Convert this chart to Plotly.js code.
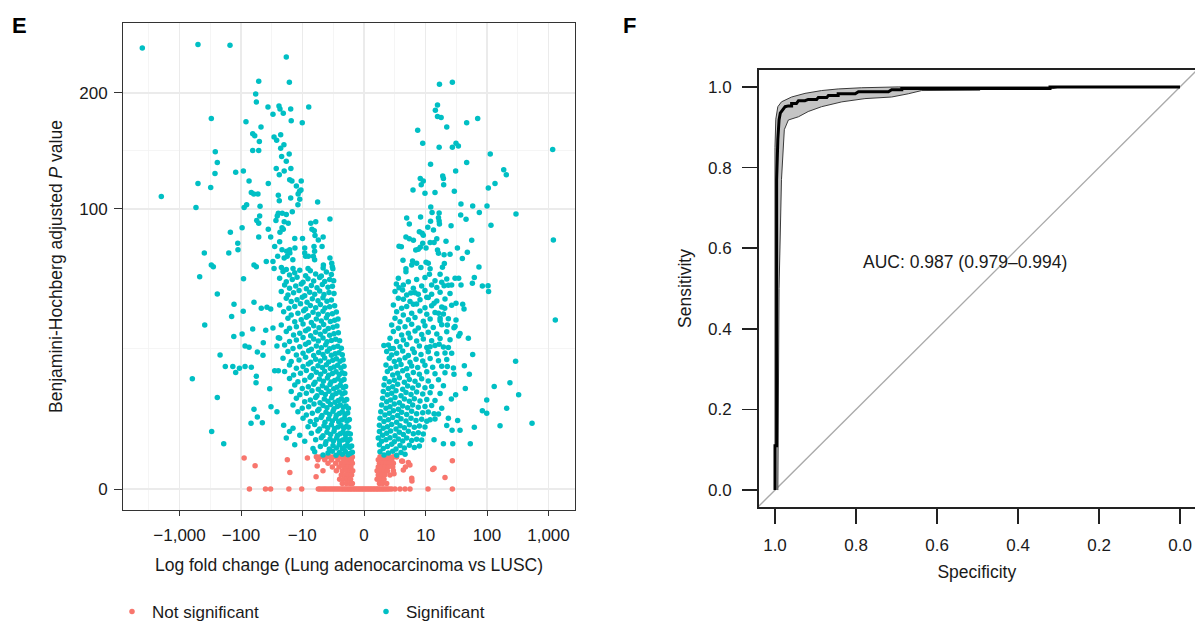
<!DOCTYPE html>
<html>
<head>
<meta charset="utf-8">
<script src="https://cdn.plot.ly/plotly-3.0.1.min.js"></script>
<style>html,body{margin:0;padding:0;background:#fff}#chart{width:1195px;height:625px}</style>
</head>
<body>
<div id="chart"></div>
<script>
// ---------- Panel E : volcano plot (x = fold change, y = BH adjusted P value) ----------
const xTickVals = [-1000, -100, -10, 0, 10, 100, 1000];
const xTickText = ['\u22121,000', '\u2212100', '\u221210', '0', '10', '100', '1,000'];
const yTickVals = [0, 100, 200];

// Significant genes, left side (sparse outer points)
const sigLeftSparse = [
[-4027,248],[-501,252],[-151,251],[-18.3,238],[-51.5,212],[-16.3,211],[-57.7,199],[-56.4,191],[-36.4,186],[-24.1,187],
[-23.2,184],[-15.5,184],[-7.8,186],[-30.2,179],[-20.5,180],[-304,175],[-83,172],[-15.2,173],[-10,171],[-47.3,167],
[-64.5,161],[-59.8,159],[-22.6,160],[-29,158],[-26.3,155],[-50.3,154],[-20,151],[-22.6,148],[-64.5,146],[-51.5,146],
[-262,145],[-16.4,143],[-21.8,141],[-243,136],[-18.3,137],[-26.7,131],[-15.4,131],[-91.6,129],[-122,128],[-19.8,129],
[-23.8,126],[-265,127],[-16.1,122],[-14.8,121],[-10.4,121],[-74,121],[-36,119],[-501,119],[-12.5,117],[-311,116],
[-1977,109],[-68,112],[-62,111],[-53,111],[-24.7,110],[-10.5,114],[-11.1,113],[-11.7,111],[-15.5,108],[-23.8,106],
[-11,107],[-11.8,103],[-5.5,105],[-540,101],[-89,101],[-81,103],[-49,102],[-14.6,98],[-24.7,97],[-21.3,97],
[-18.3,96],[-25.7,95],[-49.7,95],[-55.6,92],[-27,92],[-19.8,91],[-51.5,90],[-17,90],[-3.3,93],[-7.2,90],
[-5.93,91],[-21.5,87],[-20.5,86],[-36,86],[-6.88,86],[-6.28,85],[-23.2,84],[-149,84],[-96,87],[-6.1,82],
[-51.5,81],[-32.9,81],[-4.4,81],[-13.3,80],[-9.9,80],[-23.5,78],[-5.35,79],[-113,77],[-28.3,75],[-4.6,75],
[-112,73],[-9.1,74],[-6.35,75],[-21.5,73],[-18,72],[-16.1,73],[-13.2,74],[-9.1,71],[-6.2,72],[-395,71],
[-158,71],[-25.3,69],[-19.8,68],[-14.3,67],[-7.9,69],[-6.5,69],[-6.2,67],[-4.36,64],[-3.3,68],[-3.05,65],
[-2.97,63],[-304,64],[-282,63],[-61.5,64],[-56.4,63],[-38.8,66],[-30.2,66],[-17.7,69],[-16,71],[-8.8,69],
[-29,62],[-22,62.5],[-18.3,61.5],[-14.2,62],[-8,62],[-4.4,62.3],[-2.9,61.8],
[-470,57.5],[-243,48.5],[-389,34.3],[-619,15.5],[-243,10.7],[-300,4.2],[-191,2.6],[-219,22.9],[-180,19.1],[-136,19.1],
[-122,17.3],[-106,18.6],[-86,19.1],[-68,18.9],[-131,29.7],[-142,37.9],[-130,43.5],[-91,56.4],[-92,40.3],[-96,30.6],
[-86,26.1],[-74,25.6],[-64.5,32.6],[-61.5,44.5],[-54.3,23.9],[-43.9,22.8],[-56.4,16.2],[-57,14.4],[-61.5,8.1],[-54.3,6.6],
[-68.7,5.5],[-45,5.6],[-46.8,41.6],[-37.8,42.1],[-32.9,41.3],[-39.6,32.1],[-43.4,27.3],[-30.2,33.1],[-34.1,12.8],[-32.5,8.6],
[-26,7.6],[-28.3,17.8],[-24.7,17.8],[-26,26.1],[-24.7,29.2]
];

// Significant genes, left side (dense core)
const sigLeftDense = [
[-20.7,60.3],[-16.2,58.4],[-13.3,59.6],[-11.0,61.0],[-8.78,58.0],[-7.33,60.8],[-5.95,59.0],[-4.74,57.8],[-3.85,60.1],[-3.1,58.6],
[-23.5,56.6],[-18.3,54.8],[-14.6,55.9],[-12.2,57.2],[-9.7,54.5],[-8.02,56.3],[-6.43,55.1],[-5.07,57.0],[-4.13,54.9],[-3.34,56.0],[-2.79,55.3],
[-19.5,53.1],[-16.2,51.4],[-12.8,52.5],[-10.4,53.6],[-8.55,51.1],[-7.04,52.8],[-5.64,51.7],[-4.55,53.3],[-3.59,51.9],[-2.96,52.4],
[-22.1,49.7],[-17.2,48.0],[-13.9,49.1],[-11.3,50.3],[-9.1,47.6],[-7.51,49.4],[-6.18,48.4],[-5.07,50.0],[-4.25,48.2],[-3.44,49.2],[-2.75,48.7],
[-18.3,46.4],[-15.2,44.8],[-12.2,45.7],[-10.0,46.9],[-8.33,44.5],[-6.78,46.1],[-5.42,45.2],[-4.43,46.6],[-3.75,44.9],[-3.1,45.5],
[-23.5,43.2],[-16.6,41.6],[-13.3,42.5],[-10.7,43.7],[-8.78,41.3],[-7.33,42.9],[-5.95,41.9],[-4.93,43.4],[-4.08,41.8],[-3.34,42.3],[-2.67,42.8],
[-20.2,40.1],[-15.2,38.6],[-11.8,39.4],[-9.46,40.5],[-7.92,38.3],[-6.6,39.8],[-5.35,38.9],[-4.43,40.3],[-3.64,38.7],[-2.96,39.2],[-2.46,39.9],
[-17.2,37.2],[-13.3,35.7],[-10.4,36.5],[-8.55,37.6],[-7.04,35.4],[-5.79,36.9],[-4.74,36.0],[-3.85,37.4],[-3.24,35.8],[-2.67,36.3],[-2.27,36.8],
[-22.1,34.3],[-16.2,32.9],[-12.5,33.6],[-9.7,34.7],[-7.92,32.6],[-6.43,34.0],[-5.21,33.2],[-4.31,34.5],[-3.54,32.8],[-2.88,33.4],[-2.39,33.9],
[-18.3,31.6],[-13.9,30.2],[-11.0,30.9],[-8.78,31.9],[-7.22,29.9],[-5.95,31.3],[-4.93,30.5],[-4.08,31.7],[-3.34,30.1],[-2.75,30.7],[-2.23,31.1],
[-23.5,29.0],[-16.2,27.7],[-12.5,28.3],[-9.7,29.3],[-7.82,27.4],[-6.43,28.7],[-5.35,27.9],[-4.43,29.1],[-3.75,27.6],[-3.1,28.1],[-2.54,28.6],[-2.09,28.0],
[-19.5,26.4],[-14.2,25.2],[-11.0,25.8],[-8.78,26.7],[-7.04,24.9],[-5.79,26.1],[-4.74,25.4],[-3.96,26.5],[-3.34,25.1],[-2.79,25.6],[-2.31,26.0],[-1.91,25.3],
[-17.2,24.1],[-12.5,22.9],[-9.7,23.5],[-7.82,24.4],[-6.43,22.7],[-5.28,23.8],[-4.43,23.1],[-3.69,24.2],[-3.1,22.8],[-2.59,23.3],[-2.16,23.7],[-1.81,23.0],
[-20.7,21.8],[-15.2,20.7],[-11.3,21.2],[-8.78,22.1],[-7.22,20.5],[-5.95,21.5],[-4.93,20.9],[-4.13,21.9],[-3.49,20.6],[-2.92,21.1],[-2.46,21.6],[-2.04,20.8],[-1.73,21.3],
[-16.2,19.6],[-12.5,18.6],[-9.7,19.1],[-7.92,19.9],[-6.52,18.4],[-5.42,19.4],[-4.55,18.8],[-3.85,19.7],[-3.24,18.5],[-2.75,19.0],[-2.31,19.5],[-1.95,18.7],[-1.64,19.2],
[-19.5,17.6],[-13.9,16.6],[-10.7,17.1],[-8.55,17.9],[-7.04,16.4],[-5.79,17.4],[-4.87,16.8],[-4.13,17.7],[-3.49,16.5],[-2.96,17.0],[-2.5,17.5],[-2.12,16.7],[-1.81,17.2],[-1.57,16.9],
[-16.2,15.6],[-11.8,14.7],[-9.1,15.1],[-7.42,15.9],[-6.1,14.5],[-5.13,15.4],[-4.36,14.8],[-3.69,15.7],[-3.15,14.6],[-2.67,15.0],[-2.27,15.5],[-1.91,14.9],[-1.64,15.3],
[-13.3,13.8],[-10.0,12.9],[-7.92,13.3],[-6.43,14.0],[-5.35,12.7],[-4.55,13.6],[-3.85,13.0],[-3.29,13.9],[-2.79,12.8],[-2.39,13.2],[-2.02,13.7],[-1.71,13.1],[-1.49,13.4],
[-15.2,12.1],[-11.0,11.3],[-8.55,11.7],[-6.87,12.3],[-5.64,11.1],[-4.74,11.9],[-4.02,11.4],[-3.44,12.2],[-2.92,11.2],[-2.5,11.6],[-2.12,12.0],[-1.81,11.5],[-1.55,11.8],
[-12.5,10.5],[-9.1,9.7],[-7.33,10.1],[-5.95,10.7],[-5.0,9.5],[-4.19,10.3],[-3.59,9.8],[-3.06,10.6],[-2.62,9.6],[-2.23,10.0],[-1.91,10.4],[-1.61,9.9],[-1.39,10.2],
[-14.2,9.0],[-10.0,8.3],[-7.82,8.6],[-6.35,9.2],[-5.21,8.1],[-4.43,8.9],[-3.75,8.4],[-3.2,9.1],[-2.75,8.2],[-2.34,8.7],[-2.02,9.0],[-1.71,8.5],[-1.45,8.8],[-1.24,8.3],
[-11.8,7.6],[-8.55,7.0],[-6.78,7.3],[-5.48,7.8],[-4.61,6.9],[-3.91,7.5],[-3.34,7.1],[-2.88,7.7],[-2.46,6.95],[-2.12,7.25],[-1.81,7.6],[-1.55,7.05],[-1.3,7.35],
[-9.7,6.4],[-7.33,5.8],[-5.79,6.1],[-4.8,6.5],[-4.08,5.7],[-3.49,6.3],[-2.96,5.9],[-2.54,6.4],[-2.19,5.75],[-1.88,6.05],[-1.61,6.35],[-1.36,5.85],[-1.15,6.15],
[-20.2,5.2],[-14.2,4.7],[-8.02,4.95],[-6.18,5.3],[-5.07,4.6],[-4.25,5.1],[-3.64,4.8],[-3.1,5.25],[-2.67,4.65],[-2.27,4.9],[-1.95,5.15],[-1.67,4.75],[-1.42,5.0],[-1.22,4.85],
[-16.2,4.2],[-11.0,3.7],[-7.04,3.95],[-5.42,4.3],[-4.43,3.6],[-3.75,4.1],[-3.2,3.8],[-2.75,4.25],[-2.34,3.65],[-2.02,3.9],[-1.73,4.15],[-1.49,3.75],[-1.27,4.0],[-1.07,3.85],
[-18.3,3.3],[-9.1,2.9],[-5.95,3.1],[-4.74,3.35],[-3.91,2.85],[-3.29,3.2],[-2.83,2.95],[-2.42,3.3],[-2.09,2.9],[-1.77,3.05],[-1.51,3.25],[-1.3,2.95],[-1.1,3.15],
[-13.3,2.5],[-6.6,2.1],[-4.93,2.3],[-4.02,2.55],[-3.39,2.05],[-2.88,2.4],[-2.46,2.15],[-2.12,2.5],[-1.81,2.1],[-1.55,2.3],[-1.34,2.45],[-1.12,2.2],[-0.96,2.35],
[-6.18,1.78],[-4.43,1.47],[-3.59,1.65],[-2.96,1.82],[-2.5,1.45],[-2.12,1.7],[-1.81,1.55],[-1.51,1.8],[-1.27,1.5],[-1.07,1.62],[-0.9,1.72]
];

// Significant genes, right side (sparse outer points)
const sigRightSparse = [
[16.8,209],[27.3,211],[15.6,188],[14.4,183],[15.6,177],[17.9,176],[22.1,167],[46.7,171],[70.5,175],[7.33,164],
[8.9,152.5],[16.6,149],[27.3,149],[31.3,152.5],[34.2,150],[1170,147],[113,143],[12.0,134.5],[46.7,136],[30.9,129],
[187,130],[206,126],[8.1,123],[9.1,121],[19,125],[19.5,123],[19.7,118],[8.4,118],[6.1,114],[9.7,111.5],
[14.2,112],[29.4,113],[105,115.6],[135,119],[12.1,101.4],[12.7,97.4],[16.6,97.2],[37.7,103.6],[58.5,102.2],[100,102.2],
[75,97.4],[296,96.4],[37.3,95.8],[45.6,92.8],[4.74,93.7],[8.2,94.3],[16.2,93.9],[16.6,91.6],[5.27,89.5],[12.0,91.4],
[16.8,89.5],[26,88.4],[116,88.7],[10.8,87.4],[13.4,85.6],[7.82,84.3],[8.7,83.4],[9.1,82.1],[4.6,81],[5.27,79.9],
[6.2,78.9],[15.2,79.9],[21.5,78.3],[56.4,78.9],[1200,79.1],[3.44,75.1],[3.8,74.9],[8.9,77],[11.8,77.4],[13.7,77.4],
[6.8,72.9],[7.5,73.3],[8.1,74.5],[10.1,74.1],[15.6,72.9],[16.2,70.9],[20,69.9],[25,70.2],[33,74.1],[47.9,71.4],
[39.7,67.7],[4.07,66.7],[6.0,66.3],[7.04,65],[10.1,65.5],[11,65],[20.2,64.8],[74,62.9],[8.3,62.5],[11.8,61.8],
[4.6,61.8],[5.8,64],[18.8,62.7],
[4.6,60.2],[3.06,53.6],[3.44,51.7],[4.0,50.5],[4.14,45.9],[5.6,49],[7.5,48.3],[6.2,43.5],[10.4,46.9],[12.5,53.1],
[11.5,58.8],[17.2,58.8],[18.3,54.5],[20,52.7],[26.6,53.1],[30.2,56.6],[34.6,56.6],[37.8,53.1],[62.2,57],[57.8,54],
[84,52.6],[104,52.7],[106,49.7],[31.3,44],[40.2,43.5],[42.3,41.3],[13.7,44],[20.5,41.6],[16.2,39.4],[17.2,37.2],
[31.3,36.4],[22.6,34.3],[29,33.2],[34.6,29.8],[49.7,29],[1290,36.4],[1.63,26.3],[2.35,25.2],[11.8,25.8],[16.6,26.7],
[23.5,25.5],[26.6,23.5],[58.5,23.1],[292,20.8],[42.8,19.4],[22.6,19.1],[29,16.8],[51.6,16.8],[236,14.4],[131,13.4],
[44.4,12.9],[327,11.3],[99,10.1],[26.3,10.3],[30.9,11.3],[84,7.8],[99,7.3],[209,8.3],[540,5.5],[163,5.1],
[62.2,4.85],[33.3,6.0],[36.4,4.4],[53.5,2.6],[27.7,2.6],[19.5,2.6],[13.7,3.1],[23.5,6.4],[11.8,6.1],[13.7,7.2],
[18.3,8.3],[27,4.4]
];

// Significant genes, right side (dense core)
const sigRightDense = [
[3.34,56.6],[5.07,54.8],[7.04,55.9],[9.7,57.0],[14.2,55.3],[22.1,56.2],
[4.13,53.1],[6.18,51.4],[8.55,52.5],[15.2,51.8],[23.5,52.9],
[2.88,49.7],[4.74,48.0],[6.6,49.1],[9.7,50.2],[12.5,48.3],[17.2,49.4],[25.0,48.7],
[3.34,46.4],[5.42,44.8],[8.02,45.7],[11.0,46.8],[15.2,45.1],[20.7,46.0],
[2.67,43.2],[3.85,41.6],[4.74,42.5],[7.04,43.6],[9.7,41.9],[12.5,42.8],[18.3,42.2],[26.6,43.0],
[3.1,40.1],[4.13,38.6],[5.79,39.4],[8.02,40.4],[10.4,38.9],[14.2,39.7],[19.5,39.1],
[2.88,37.2],[3.59,35.7],[5.07,36.5],[6.6,37.5],[9.1,35.9],[11.8,36.8],[17.2,36.1],[23.5,37.0],
[2.46,34.3],[3.34,32.9],[4.43,33.6],[5.79,34.6],[7.51,33.1],[9.7,34.0],[13.3,33.3],[18.3,34.4],[30.2,33.7],
[2.67,31.6],[3.85,30.2],[5.07,30.9],[6.6,31.8],[8.55,30.4],[11.0,31.3],[15.2,30.6],[22.1,31.5],[36.4,30.8],
[2.27,29.0],[3.1,27.7],[4.13,28.3],[5.42,29.2],[7.04,27.9],[9.1,28.7],[12.5,28.0],[17.2,28.9],[25.0,28.4],
[2.09,26.4],[2.67,25.2],[3.59,25.8],[4.74,26.6],[6.02,25.0],[7.82,26.1],[10.4,25.5],[14.2,26.3],[19.5,25.7],
[1.91,24.1],[2.46,22.9],[3.1,23.5],[4.02,24.3],[5.07,22.7],[6.43,23.8],[8.33,23.1],[11.0,24.0],[15.2,23.3],[20.7,23.6],
[2.19,21.8],[2.79,20.7],[3.49,21.2],[4.43,22.0],[5.42,20.5],[6.87,21.5],[8.89,20.9],[11.8,21.7],[16.2,21.0],[22.1,21.4],
[1.84,19.6],[2.34,18.6],[3.01,19.1],[3.75,19.8],[4.74,18.4],[5.79,19.3],[7.33,18.8],[9.7,19.5],[13.0,18.9],[18.3,19.2],[28.4,18.7],
[1.98,17.6],[2.59,16.6],[3.24,17.1],[4.02,17.8],[4.93,16.4],[6.18,17.3],[7.82,16.8],[10.4,17.5],[14.2,16.9],[20.7,17.2],
[1.73,15.6],[2.19,14.7],[2.79,15.1],[3.49,15.8],[4.31,14.5],[5.28,15.3],[6.6,14.8],[8.55,15.5],[11.0,14.9],[16.2,15.2],
[1.64,13.8],[2.09,12.9],[2.59,13.3],[3.24,14.0],[4.02,12.7],[4.93,13.5],[6.02,13.0],[7.51,13.7],[9.7,13.1],[12.5,13.4],[19.5,13.6],
[1.57,12.1],[1.98,11.3],[2.46,11.7],[3.01,12.3],[3.75,11.1],[4.61,11.9],[5.64,11.4],[7.04,12.0],[8.89,11.5],[11.8,11.8],[17.2,11.6],
[1.51,10.5],[1.91,9.7],[2.34,10.1],[2.88,10.7],[3.49,9.5],[4.31,10.3],[5.28,9.8],[6.43,10.4],[8.02,9.9],[10.4,10.2],[14.2,10.0],
[1.42,9.0],[1.84,8.3],[2.27,8.6],[2.79,9.2],[3.34,8.1],[4.02,8.8],[4.93,8.4],[6.02,9.0],[7.51,8.5],[9.7,8.7],[12.5,8.9],
[1.34,7.6],[1.73,7.0],[2.19,7.3],[2.67,7.8],[3.24,6.9],[3.85,7.5],[4.74,7.1],[5.79,7.7],[7.04,7.2],[8.89,7.4],[11.0,7.55],[16.2,7.15],
[1.27,6.4],[1.64,5.8],[2.09,6.1],[2.59,6.5],[3.1,5.7],[3.75,6.3],[4.61,5.9],[5.64,6.4],[6.87,6.0],[8.55,6.2],[10.4,5.85],[14.2,6.25],
[1.22,5.2],[1.57,4.7],[1.98,4.95],[2.46,5.3],[3.01,4.6],[3.59,5.1],[4.31,4.8],[5.28,5.25],[6.43,4.85],[7.82,5.05],[9.7,4.9],[22.1,5.15],
[1.22,4.2],[1.51,3.7],[1.91,3.95],[2.34,4.3],[2.88,3.6],[3.49,4.1],[4.13,3.8],[5.07,4.25],[6.18,3.9],[7.51,4.05],[9.1,3.85],
[1.12,3.3],[1.42,2.9],[1.84,3.1],[2.27,3.35],[2.79,2.85],[3.34,3.2],[4.02,2.95],[4.74,3.3],[5.79,3.0],[7.04,3.15],[8.55,3.05],
[1.22,2.5],[1.57,2.1],[1.98,2.3],[2.46,2.55],[3.01,2.05],[3.59,2.4],[4.31,2.15],[5.28,2.45],[6.43,2.2],[7.82,2.35],
[1.27,1.78],[1.64,1.47],[2.09,1.65],[2.59,1.82],[3.1,1.45],[3.75,1.7],[4.43,1.55]
];

// Not significant genes
const notSig = [
[-73,0],[-40,0],[-33,0],[-16.6,0],[-10.2,0],[-5.35,0],[-5.0,0],[-4.6,0],[-4.25,0],[-3.95,0],[-3.65,0],[-3.35,0],[-3.1,0],
[-2.85,0],[-2.62,0],[-2.4,0],[-2.2,0],[-2.0,0],[-1.82,0],[-1.65,0],[-1.5,0],[-1.35,0],[-1.2,0],[-1.07,0],[-0.95,0],[-0.82,0],
[-0.7,0],[-0.58,0],[-0.46,0],[-0.35,0],[-0.23,0],[-0.12,0],[0,0],[0.12,0],[0.23,0],[0.35,0],[0.46,0],[0.58,0],[0.7,0],
[0.82,0],[0.95,0],[1.07,0],[1.2,0],[1.35,0],[1.5,0],[1.65,0],[1.82,0],[2.0,0],[2.2,0],[2.46,0],[2.88,0],[3.59,0],[4.43,0],
[5.42,0],[10.9,0],[27.3,0],
[-5.79,1.32],[-5.07,1.3],[-4.43,1.33],[-3.85,1.3],[-3.34,1.32],[-2.88,1.31],[-2.46,1.33],[-2.09,1.3],[-1.73,1.32],[-1.42,1.31],[-1.12,1.33],[-0.9,1.3],
[-5.42,1.1],[-4.13,1.1],[-3.1,1.08],[-2.27,1.1],[-1.67,1.09],[-1.27,1.1],[-0.99,1.08],
[-3.59,0.85],[-2.54,0.85],[-1.91,0.84],[-1.49,0.86],[-1.12,0.85],[-0.9,0.84],
[-2.96,0.62],[-2.16,0.62],[-1.67,0.63],[-1.3,0.61],[-1.02,0.62],
[-4.43,0.42],[-2.46,0.42],[-1.81,0.41],[-1.42,0.43],[-1.1,0.42],[-0.87,0.42],
[-1.91,0.25],[-1.51,0.25],[-1.22,0.26],[-0.96,0.25],
[-2.09,0.12],[-1.67,0.12],[-1.34,0.12],[-1.05,0.12],
[-1.81,0.04],[-1.42,0.04],[-1.12,0.04],[-0.9,0.04],
[-89,1.23],[-59,0.69],[-17.6,1.1],[-16,0.35],[-8.2,1.23],[-5.85,0.19],[-5.6,0.67],
[1.27,1.32],[1.57,1.3],[1.91,1.33],[2.27,1.31],[2.67,1.32],[3.1,1.3],
[1.12,1.1],[1.42,1.09],[1.73,1.1],[2.09,1.08],[2.46,1.1],[3.85,1.0],
[1.22,0.85],[1.51,0.84],[1.84,0.86],[2.19,0.85],[2.67,0.84],[5.07,0.9],
[1.12,0.62],[1.42,0.62],[1.73,0.61],[2.09,0.63],[2.59,0.62],[4.13,0.46],
[1.02,0.42],[1.34,0.42],[1.64,0.43],[1.98,0.41],[2.67,0.42],
[1.12,0.25],[1.42,0.25],[1.73,0.26],[2.27,0.25],
[1.02,0.12],[1.34,0.12],[1.64,0.12],
[1.22,0.04],[1.51,0.04],[1.91,0.04],
[13.7,0.55],[13.0,0.48],[20.7,0.17],[27.3,1.02],[5.85,0.08],[4.5,0.62],[5.4,0.73],[4.0,0.98],[2.75,0.3],[5.8,0.15]
];

// ---------- Panel F : ROC curve ----------
const rocSpec = [1.0,1.0,0.996,0.996,0.993,0.990,0.987,0.982,0.975,0.967,0.959,0.959,0.947,0.942,0.926,0.918,0.897,0.893,0.872,0.868,0.844,0.844,0.802,0.794,0.72,0.712,0.687,0.687,0.321,0.321,0.0];
const rocSens = [0.0,0.11,0.11,0.77,0.87,0.918,0.935,0.943,0.951,0.953,0.953,0.959,0.959,0.966,0.966,0.969,0.969,0.974,0.974,0.979,0.979,0.983,0.983,0.988,0.988,0.993,0.993,0.996,0.996,1.0,1.0];
const ciUpperSpec = [1.0,1.0,0.998,0.993,0.984,0.959,0.926,0.885,0.844,0.786,0.696,0.0];
const ciUpperSens = [0.0,0.85,0.92,0.951,0.963,0.975,0.984,0.991,0.995,0.998,1.0,1.0];
const ciLowerSpec = [0.993,0.99,0.984,0.977,0.967,0.942,0.918,0.885,0.835,0.778,0.712,0.671,0.638,0.556,0.494,0.494,0.314,0.296,0.0];
const ciLowerSens = [0.0,0.5,0.77,0.894,0.918,0.926,0.939,0.951,0.963,0.971,0.975,0.983,0.991,0.991,0.992,0.995,0.996,1.0,1.0];
const rocTicks = [1.0,0.8,0.6,0.4,0.2,0.0];
const aucLabel = 'AUC: 0.987 (0.979\u20130.994)';

// ---------- transforms (ggplot pseudo-log x, sqrt y) ----------
const tx = v => Math.asinh(v / 2) / Math.LN10;
const ty = v => Math.sqrt(v);

const RED = '#F8766D', TEAL = '#00BFC4';
const FONT = '"Liberation Sans", Arial, Helvetica, sans-serif';

const sigAll = sigLeftSparse.concat(sigLeftDense, sigRightSparse, sigRightDense);

const xMajorT = xTickVals.map(tx);
const xMinorT = [];
for (let i = 0; i < xMajorT.length - 1; i++) xMinorT.push((xMajorT[i] + xMajorT[i + 1]) / 2);
xMinorT.unshift(xMajorT[0] - (xMajorT[1] - xMajorT[0]) / 2);
const yMajorT = yTickVals.map(ty);
const yMinorT = [];
for (let i = 0; i < yMajorT.length - 1; i++) yMinorT.push((yMajorT[i] + yMajorT[i + 1]) / 2);

const traces = [
  {
    type: 'scatter', mode: 'markers', name: 'Not significant', legend: 'legend',
    x: notSig.map(p => tx(p[0])), y: notSig.map(p => ty(p[1])),
    marker: {color: RED, size: 5.5}, xaxis: 'x', yaxis: 'y', cliponaxis: true
  },
  {
    type: 'scatter', mode: 'markers', name: 'Significant', legend: 'legend2',
    x: sigAll.map(p => tx(p[0])), y: sigAll.map(p => ty(p[1])),
    marker: {color: TEAL, size: 5.5}, xaxis: 'x', yaxis: 'y', cliponaxis: true
  },
  {
    type: 'scatter', mode: 'lines', showlegend: false,
    x: [1.1, -0.1], y: [-0.1, 1.1],
    line: {color: '#AAAAAA', width: 1.3}, xaxis: 'x2', yaxis: 'y2', hoverinfo: 'skip'
  },
  {
    type: 'scatter', mode: 'lines', showlegend: false, fill: 'toself', fillcolor: '#C4C4C4',
    x: ciUpperSpec.concat(ciLowerSpec.slice().reverse()),
    y: ciUpperSens.concat(ciLowerSens.slice().reverse()),
    line: {color: '#3a3a3a', width: 1}, xaxis: 'x2', yaxis: 'y2', hoverinfo: 'skip'
  },
  {
    type: 'scatter', mode: 'lines', showlegend: false,
    x: rocSpec, y: rocSens,
    line: {color: '#000000', width: 3, shape: 'linear'}, xaxis: 'x2', yaxis: 'y2'
  }
];

const W = 1195, H = 625;
const layout = {
  width: W, height: H,
  margin: {l: 0, r: 0, t: 0, b: 0, autoexpand: false},
  paper_bgcolor: '#ffffff', plot_bgcolor: '#ffffff',
  font: {family: FONT, size: 17, color: '#1a1a1a'},
  showlegend: true,
  xaxis: {
    domain: [123 / W, 575 / W], range: [-3.919, 3.431], anchor: 'y',
    tickmode: 'array', tickvals: xMajorT, ticktext: xTickText,
    showgrid: true, gridcolor: '#EBEBEB', gridwidth: 1.3, zeroline: false,
    minor: {tickmode: 'array', tickvals: xMinorT, showgrid: true, gridcolor: '#F2F2F2', gridwidth: 0.8, ticks: ''},
    showline: true, mirror: true, linecolor: '#333333', linewidth: 1,
    ticks: 'outside', ticklen: 5, tickwidth: 1, tickcolor: '#333333',
    tickfont: {size: 17, color: '#1a1a1a'}, ticklabelstandoff: 5,
    title: {text: 'Log fold change (Lung adenocarcinoma vs LUSC)', font: {size: 17.5, color: '#1a1a1a'}, standoff: 14}
  },
  yaxis: {
    domain: [(H - 510) / H, (H - 23) / H], range: [-0.75, 16.64], anchor: 'x',
    tickmode: 'array', tickvals: yMajorT, ticktext: yTickVals.map(String),
    showgrid: true, gridcolor: '#EBEBEB', gridwidth: 1.3, zeroline: false,
    minor: {tickmode: 'array', tickvals: yMinorT, showgrid: true, gridcolor: '#F2F2F2', gridwidth: 0.8, ticks: ''},
    showline: true, mirror: true, linecolor: '#333333', linewidth: 1,
    ticks: 'outside', ticklen: 8, tickwidth: 1, tickcolor: '#333333',
    tickfont: {size: 17, color: '#1a1a1a'}, ticklabelstandoff: 3,
    title: {text: 'Benjamini-Hochberg adjusted <i>P</i> value', font: {size: 17.5, color: '#1a1a1a'}, standoff: 12}
  },
  xaxis2: {
    domain: [758.6 / W, 1], range: [1.0405, -0.037], anchor: 'y2',
    tickmode: 'array', tickvals: rocTicks, ticktext: rocTicks.map(v => v.toFixed(1)),
    showgrid: false, zeroline: false,
    showline: true, mirror: true, linecolor: '#222222', linewidth: 1.6,
    ticks: 'outside', ticklen: 15, tickwidth: 1.5, tickcolor: '#222222',
    tickfont: {size: 17, color: '#1a1a1a'}, ticklabelstandoff: 7,
    title: {text: 'Specificity', font: {size: 17.5, color: '#1a1a1a'}, standoff: 12}
  },
  yaxis2: {
    domain: [(H - 507) / H, (H - 70) / H], range: [-0.042, 1.042], anchor: 'x2',
    tickmode: 'array', tickvals: rocTicks, ticktext: rocTicks.map(v => v.toFixed(1)),
    showgrid: false, zeroline: false,
    showline: true, mirror: false, linecolor: '#222222', linewidth: 1.6,
    ticks: 'outside', ticklen: 15, tickwidth: 1.5, tickcolor: '#222222',
    tickfont: {size: 17, color: '#1a1a1a'}, ticklabelstandoff: 7,
    title: {text: 'Sensitivity', font: {size: 17.5, color: '#1a1a1a'}, standoff: 12}
  },
  legend: {
    orientation: 'h', x: 112 / W, xanchor: 'left', y: (H - 612) / H, yanchor: 'middle',
    font: {size: 17, color: '#1a1a1a'}, bgcolor: 'rgba(0,0,0,0)', itemsizing: 'trace'
  },
  legend2: {
    orientation: 'h', x: 366 / W, xanchor: 'left', y: (H - 612) / H, yanchor: 'middle',
    font: {size: 17, color: '#1a1a1a'}, bgcolor: 'rgba(0,0,0,0)', itemsizing: 'trace'
  },
  annotations: [
    {text: '<b>E</b>', xref: 'paper', yref: 'paper', x: 10 / W, y: (H - 25) / H, xanchor: 'left', yanchor: 'middle',
     showarrow: false, font: {size: 22, color: '#000'}},
    {text: '<b>F</b>', xref: 'paper', yref: 'paper', x: 621 / W, y: (H - 25) / H, xanchor: 'left', yanchor: 'middle',
     showarrow: false, font: {size: 22, color: '#000'}},
    {text: aucLabel, xref: 'x2', yref: 'y2', x: 0.531, y: 0.566, xanchor: 'center', yanchor: 'middle',
     showarrow: false, font: {size: 17.5, color: '#1a1a1a'}}
  ]
};

Plotly.newPlot('chart', traces, layout, {displayModeBar: false, staticPlot: true});
</script>
</body>
</html>
